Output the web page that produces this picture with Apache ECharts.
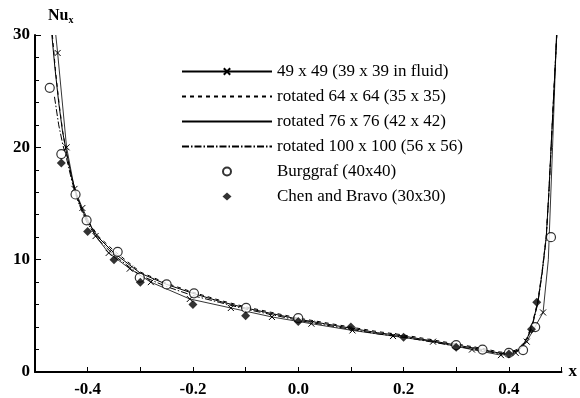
<!DOCTYPE html>
<html><head><meta charset="utf-8">
<script src="https://cdn.jsdelivr.net/npm/echarts@6/dist/echarts.min.js"></script>
<style>html,body{margin:0;padding:0;background:#fff}#c{width:580px;height:398px}</style>
</head><body><div id="c"></div>
<script>
var seriesNames = ['49 x 49 (39 x 39 in fluid)', 'rotated 64 x 64 (35 x 35)', 'rotated 76 x 76 (42 x 42)', 'rotated 100 x 100 (56 x 56)', 'Burggraf (40x40)', 'Chen and Bravo (30x30)'];
var xTickLabels = ['-0.4', '-0.2', '0.0', '0.2', '0.4'];
var yTickLabels = ['0', '10', '20', '30'];

var grid49 = [[-0.4605,30],[-0.457,28.4],[-0.44,20.0],[-0.425,16.3],[-0.41,14.6],[-0.385,12.1],[-0.36,10.6],[-0.32,9.2],[-0.28,8.0],[-0.206,6.5],[-0.128,5.7],[-0.05,4.9],[0.025,4.3],[0.103,3.7],[0.18,3.2],[0.256,2.7],[0.33,2.0],[0.385,1.5],[0.413,1.7],[0.434,2.7],[0.465,5.3],[0.475,10.0],[0.483,20.0],[0.4905,30]];
var hiddenMarks49 = [0, 21, 22, 23];
var grid64 = [[-0.467,30],[-0.461,26.8],[-0.454,23.8],[-0.447,21.3],[-0.44,19.4],[-0.43,17.2],[-0.42,15.6],[-0.41,14.4],[-0.40,13.5],[-0.38,12.1],[-0.35,10.8],[-0.30,8.9],[-0.25,7.9],[-0.20,7.1],[-0.15,6.4],[-0.10,5.8],[-0.05,5.3],[0.0,4.8],[0.05,4.4],[0.10,4.0],[0.15,3.6],[0.20,3.3],[0.25,2.9],[0.30,2.5],[0.35,2.1],[0.38,1.8],[0.40,1.7],[0.42,2.1],[0.435,3.1],[0.445,4.4],[0.455,6.3],[0.463,8.9],[0.471,12.1],[0.476,16.0],[0.48,19.8],[0.485,24.5],[0.491,30]];
var grid76 = [[-0.468,30],[-0.462,27.0],[-0.455,24.0],[-0.448,21.5],[-0.44,19.5],[-0.43,17.3],[-0.42,15.6],[-0.41,14.4],[-0.40,13.4],[-0.38,12.0],[-0.35,10.6],[-0.30,8.8],[-0.25,7.8],[-0.20,7.0],[-0.15,6.3],[-0.10,5.7],[-0.05,5.2],[0.0,4.7],[0.05,4.3],[0.10,3.9],[0.15,3.5],[0.20,3.2],[0.25,2.8],[0.30,2.4],[0.35,2.0],[0.38,1.7],[0.40,1.65],[0.42,2.0],[0.435,3.0],[0.445,4.3],[0.455,6.2],[0.463,8.8],[0.471,12.0],[0.476,16.0],[0.48,19.8],[0.485,24.5],[0.491,30]];
var grid100 = [[-0.463,24.5],[-0.455,22.0],[-0.447,20.2],[-0.44,19.0],[-0.43,17.0],[-0.42,15.4],[-0.41,14.2],[-0.40,13.2],[-0.38,11.8],[-0.35,10.4],[-0.30,8.6],[-0.25,7.6],[-0.20,6.8],[-0.15,6.2],[-0.10,5.6],[-0.05,5.1],[0.0,4.6],[0.05,4.2],[0.10,3.8],[0.15,3.4],[0.20,3.1],[0.25,2.7],[0.30,2.3],[0.35,1.9],[0.38,1.65],[0.40,1.6],[0.42,1.95],[0.435,2.9],[0.445,4.2],[0.455,6.1],[0.463,8.7],[0.471,11.9],[0.476,15.9],[0.48,19.7],[0.485,24.4],[0.491,30]];
var burggraf = [[-0.472,25.3],[-0.45,19.4],[-0.423,15.8],[-0.402,13.5],[-0.343,10.7],[-0.301,8.4],[-0.25,7.8],[-0.198,7.0],[-0.099,5.7],[0.0,4.8],[0.3,2.4],[0.35,2.0],[0.40,1.7],[0.427,1.95],[0.45,4.0],[0.48,12.0]];
var chenBravo = [[-0.45,18.6],[-0.40,12.5],[-0.35,10.0],[-0.30,8.0],[-0.20,6.0],[-0.10,5.0],[0.0,4.5],[0.10,4.0],[0.20,3.1],[0.30,2.2],[0.40,1.6],[0.443,3.8],[0.453,6.2]];

var FONT = 'Liberation Serif';
var crossPath = 'path://M0,0L10,10M10,0L0,10';
var legendDiamond = 'path://M0,0L0.01,0L0.01,0.01ZM90,8L89.99,8L89.99,7.99ZM45,-0.5L49.5,4L45,8.5L40.5,4Z';

function lineSeries(name, data, type, withMarks) {
  return {
    name: name, type: 'line', data: data.map(function (p, i) {
      if (withMarks && hiddenMarks49.indexOf(i) >= 0) return { value: p, symbol: 'none' };
      return p;
    }),
    showSymbol: !!withMarks, symbol: withMarks ? crossPath : 'none', symbolSize: 6,
    itemStyle: { color: '#000', borderColor: '#000', borderWidth: 1 },
    lineStyle: { color: '#000', width: withMarks ? 0.8 : 1, type: type },
    clip: true, silent: true, animation: false, z: 3
  };
}

var legendData = seriesNames.map(function (n, i) {
  if (i === 1 || i === 2 || i === 3) return { name: n, itemStyle: { opacity: 0, color: 'transparent', borderWidth: 0 } };
  if (i === 5) return { name: n, icon: legendDiamond };
  if (i === 4) return { name: n, icon: 'circle' };
  return { name: n };
});

var chart = echarts.init(document.getElementById('c'), null, { renderer: 'canvas' });
chart.setOption({
  backgroundColor: '#fff',
  animation: false,
  textStyle: { fontFamily: FONT },
  grid: { left: 35, right: 17, top: 35, bottom: 24, containLabel: false },
  legend: {
    left: 181, top: 63, padding: 0, orient: 'vertical', itemWidth: 90, itemHeight: 8, itemGap: 8,
    symbolKeepAspect: false,
    textStyle: { fontFamily: FONT, fontSize: 17, color: '#000', padding: [0, 0, 0, 0] },
    data: legendData, selectedMode: false
  },
  xAxis: {
    type: 'value', min: -0.5, max: 0.5, interval: 0.1,
    name: 'x', nameLocation: 'end', nameGap: 7,
    nameTextStyle: { fontFamily: FONT, fontSize: 17, fontWeight: 'bold', color: '#000', verticalAlign: 'middle' },
    axisLine: { onZero: false, lineStyle: { color: '#000', width: 2 } },
    axisTick: { inside: true, length: 5, lineStyle: { color: '#000', width: 1 } },
    minorTick: { show: false },
    splitLine: { show: false },
    axisLabel: {
      fontFamily: FONT, fontSize: 17, fontWeight: 'bold', color: '#000', margin: 9,
      formatter: function (v) {
        var r = Math.round(v * 10);
        if (r % 2 !== 0 || Math.abs(r) > 4) return '';
        return xTickLabels[(r + 4) / 2];
      }
    }
  },
  yAxis: {
    type: 'value', min: 0, max: 30, interval: 10,
    name: '{a|Nu}{b|x}', nameLocation: 'end', nameGap: 10,
    nameTextStyle: { align: 'left', padding: [0, 0, 0, 13], rich: {
      a: { fontFamily: FONT, fontSize: 16, fontWeight: 'bold', color: '#000' },
      b: { fontFamily: FONT, fontSize: 10, fontWeight: 'bold', color: '#000', verticalAlign: 'bottom', padding: [8, 0, 0, 0] }
    } },
    axisLine: { show: true, onZero: false, lineStyle: { color: '#000', width: 2 } },
    axisTick: { inside: true, length: 6, lineStyle: { color: '#000', width: 1 } },
    minorTick: { show: true, splitNumber: 5, length: 4, lineStyle: { color: '#000', width: 1 } },
    splitLine: { show: false },
    axisLabel: {
      fontFamily: FONT, fontSize: 17, fontWeight: 'bold', color: '#000', margin: 5,
      formatter: function (v) { return yTickLabels[Math.round(v / 10)]; }
    }
  },
  series: [
    lineSeries(seriesNames[0], grid49, 'solid', true),
    lineSeries(seriesNames[1], grid64, [4, 4], false),
    lineSeries(seriesNames[2], grid76, 'solid', false),
    lineSeries(seriesNames[3], grid100, [7, 2, 1.5, 2], false),
    { name: seriesNames[4], type: 'scatter', data: burggraf, symbol: 'circle', symbolSize: 9,
      itemStyle: { color: '#fff', borderColor: '#000', borderWidth: 1.2 }, z: 5, silent: true },
    { name: seriesNames[5], type: 'scatter', data: chenBravo, symbol: 'diamond', symbolSize: 9,
      itemStyle: { color: '#000' }, z: 6, silent: true }
  ]
});
</script></body></html>
